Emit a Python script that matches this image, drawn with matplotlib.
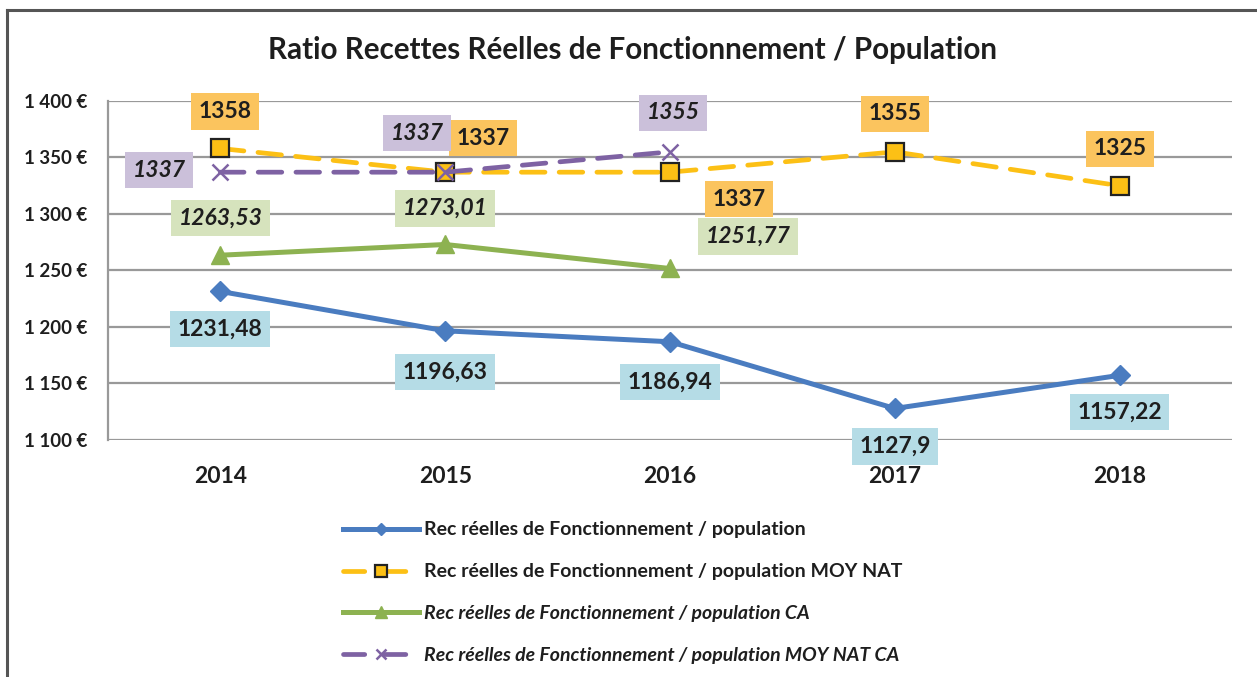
import matplotlib
matplotlib.use("Agg")
import matplotlib.pyplot as plt
from matplotlib.lines import Line2D

plt.rcParams["font.family"] = ["Lato", "DejaVu Sans"]

# data
years = ["2014", "2015", "2016", "2017", "2018"]
rec_pop = [1231.48, 1196.63, 1186.94, 1127.9, 1157.22]
rec_moy_nat = [1358, 1337, 1337, 1355, 1325]
rec_ca = [1263.53, 1273.01, 1251.77]
rec_moy_nat_ca = [1337, 1337, 1355]

labels = [
    "Rec réelles de Fonctionnement / population",
    "Rec réelles de Fonctionnement / population MOY NAT",
    "Rec réelles de Fonctionnement / population CA",
    "Rec réelles de Fonctionnement / population MOY NAT CA",
]
y_ticks = [1100, 1150, 1200, 1250, 1300, 1350, 1400]

# label offsets (pixels) for each point
off_pop = [(0, -38), (0, -41), (0, -40), (0, -38), (0, -37)]
off_moy = [(5, 37), (38, 34), (69, -27), (0, 38), (0, 37)]
off_ca = [(0, 37), (0, 36), (78, 32)]
off_moy_ca = [(-61, 2), (-28, 39), (3, 39)]


def fmt(v):
    return str(v).replace(".", ",")


fig = plt.figure(figsize=(12.57, 6.77), dpi=100)
ax = fig.add_axes([108 / 1257, 1 - 440 / 677, (1232 - 108) / 1257, (440 - 101) / 677])

x = list(range(len(years)))

blue, orange, green, purple = "#4a7cc0", "#fcc015", "#8db251", "#7e62a3"

l1, = ax.plot(x, rec_pop, color=blue, lw=3.6, marker="D", ms=10, zorder=3,
              solid_joinstyle="round")
l2, = ax.plot(x, rec_moy_nat, color=orange, lw=3.4, marker="s", ms=13,
              mfc=orange, mec="#222222", mew=1.6, zorder=4,
              dashes=(5, 3), dash_capstyle="round")
l3, = ax.plot(x[:3], rec_ca, color=green, lw=3.6, marker="^", ms=13, zorder=3)
l4, = ax.plot(x[:3], rec_moy_nat_ca, color=purple, lw=3.4, marker="x", ms=12,
              mew=1.8, zorder=5, dashes=(5, 3), dash_capstyle="round")


def add_labels(xs, vals, offs, box, italic):
    for xi, v, o in zip(xs, vals, offs):
        ax.annotate(fmt(v), (xi, v), xytext=o, textcoords="offset pixels",
                    ha="center", va="center", fontsize=16.5, fontweight="bold",
                    style="italic" if italic else "normal", color="#1e1e1e",
                    bbox=dict(boxstyle="square,pad=0.33", fc=box, ec="none"),
                    zorder=6, annotation_clip=False)


add_labels(x, rec_pop, off_pop, "#b5dce6", False)
add_labels(x, rec_moy_nat, off_moy, "#fbc45e", False)
add_labels(x[:3], rec_ca, off_ca, "#d6e3bd", True)
add_labels(x[:3], rec_moy_nat_ca, off_moy_ca, "#cbc0da", True)

ax.set_xlim(-0.5, 4.5)
ax.set_ylim(1100, 1400)
ax.set_yticks(y_ticks)
ax.set_yticklabels([f"{v // 1000} {v % 1000:03d} €" for v in y_ticks])
ax.set_xticks(x)
ax.set_xticklabels(years)
ax.tick_params(axis="both", length=0)
ax.tick_params(axis="y", pad=15, labelsize=13.5)
ax.tick_params(axis="x", pad=19, labelsize=16.5)
for lab in ax.get_xticklabels() + ax.get_yticklabels():
    lab.set_fontweight("bold")
    lab.set_color("#1e1e1e")

ax.grid(axis="y", color="#999999", lw=1.6)
ax.set_axisbelow(True)
for s in ["top", "right", "bottom"]:
    ax.spines[s].set_visible(False)
ax.spines["left"].set_color("#999999")
ax.spines["left"].set_linewidth(1.6)

fig.text(633 / 1257, 1 - 50 / 677, "Ratio Recettes Réelles de Fonctionnement / Population",
         ha="center", va="center", fontsize=21.3, fontweight="bold", color="#1e1e1e")

leg = fig.legend([l1, l2, l3, l4], labels, loc="upper left",
                 bbox_to_anchor=(343 / 1257, 1 - 521.5 / 677), frameon=False,
                 fontsize=14, handlelength=3.9, handletextpad=0.25,
                 labelspacing=1.28, borderaxespad=0, borderpad=0)
for i, t in enumerate(leg.get_texts()):
    t.set_fontweight("bold")
    t.set_color("#1e1e1e")
    if i >= 2:
        t.set_style("italic")
for h in leg.legend_handles:
    h.set_markersize(h.get_markersize() * 0.65)
leg.legend_handles[1].set_dashes((4.5, 4.2))
leg.legend_handles[3].set_dashes((4.5, 4.2))

# outer frame
fig.add_artist(Line2D([7 / 1257, 7 / 1257], [0, 1 - 10 / 677], color="#555555", lw=2.2))
fig.add_artist(Line2D([7 / 1257, 1], [1 - 10 / 677, 1 - 10 / 677], color="#555555", lw=2.2))

fig.savefig("out.png", dpi=100)
